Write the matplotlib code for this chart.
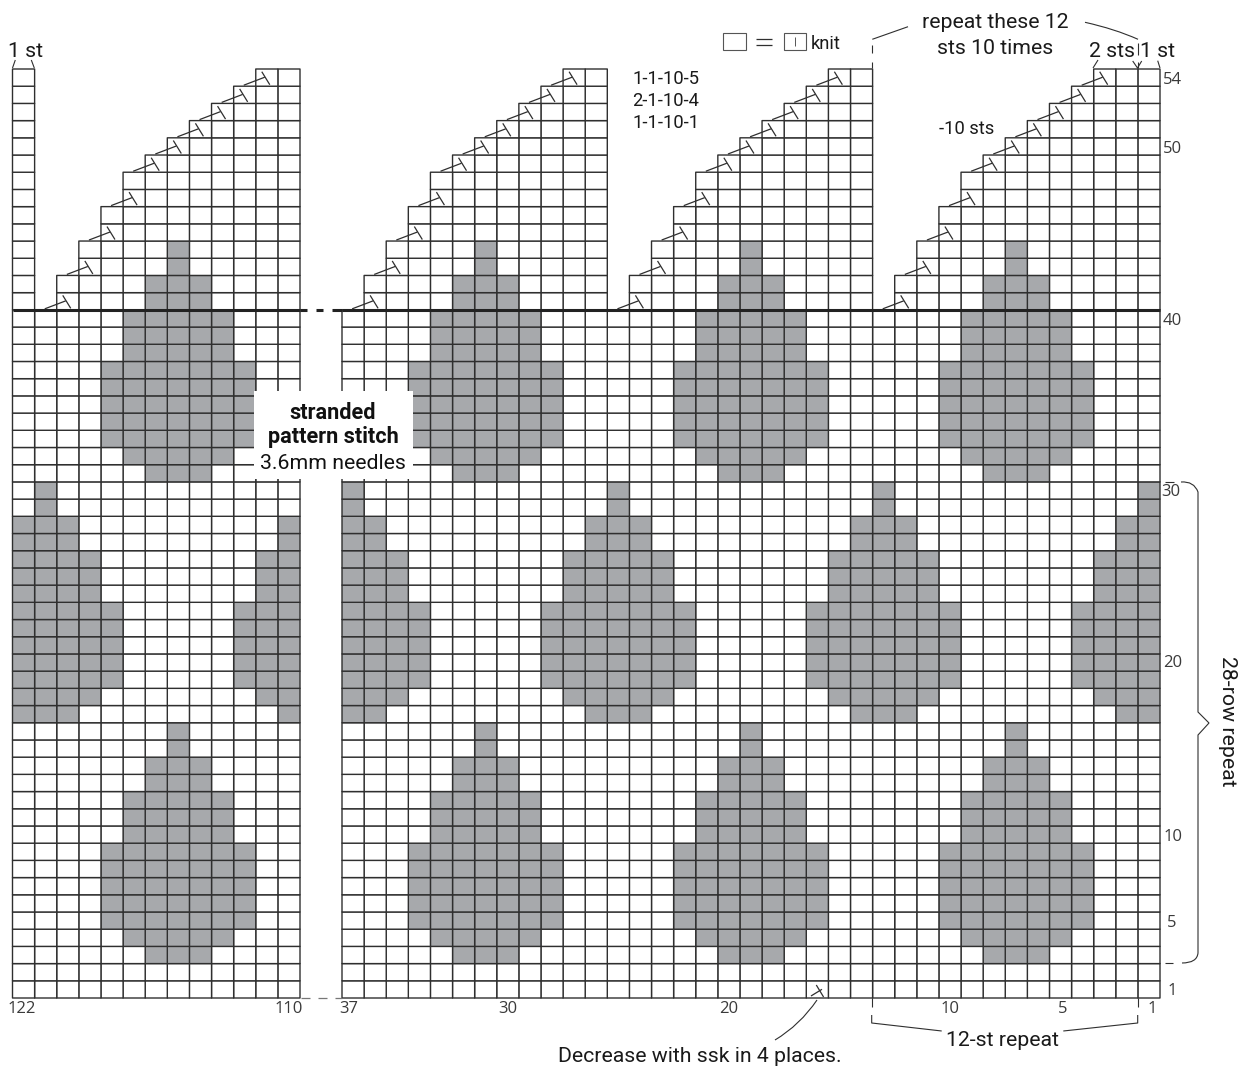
import numpy as np
import matplotlib
matplotlib.use("Agg")
import matplotlib.pyplot as plt
from matplotlib.colors import ListedColormap
from matplotlib.patches import Rectangle, PathPatch
from matplotlib.path import Path
from matplotlib.transforms import ScaledTranslation

W, H = 1247, 1068
NARROW = ["Roboto", "Liberation Sans", "DejaVu Sans"]
NUMFONT = ["Open Sans", "DejaVu Sans"]
LINE = "#2f2f2f"
GREY = "#a7a9ac"
NUMCOL = "#3a3a3a"

# ---- data ----
total_rows = 54
base_rows = 40
motif_half_widths = [1, 2, 3, 3, 3, 3, 3, 2, 2, 2, 1, 1, 0, 0]
motif_a_start_rows = [3, 31]
motif_a_centres = [7, 19, 31, 115]
motif_b_start_rows = [17]
motif_b_centres = [1, 13, 25, 37, 109, 121]
top_rows = [41, 42, 43, 44, 45, 46, 47, 48, 49, 50, 51, 52, 53, 54]
edge_widths = [12, 12, 11, 11, 10, 10, 9, 9, 8, 7, 6, 5, 4, 3]
inner_widths = [11, 11, 10, 10, 9, 9, 8, 8, 7, 6, 5, 4, 3, 2]
edge_start = 1
inner_starts = [14, 26, 110]
single_column = 122
decrease_rows = [41, 43, 45, 47, 49, 50, 51, 52, 53, 54]
ssk_stitch = 16
row_ticks = [1, 5, 10, 20, 30, 40, 50, 54]
right_stitch_ticks = [37, 30, 20, 10, 5, 1]
left_stitch_ticks = [122, 110]
right_range = (1, 37)
left_range = (110, 122)
top_left = 69
bottom = 998

fig = plt.figure(figsize=(W / 100, H / 100), dpi=100, facecolor="white")


def px_axes(x0, x1, y0, y1, **kw):
    return fig.add_axes([x0 / W, 1 - y1 / H, (x1 - x0) / W, (y1 - y0) / H], **kw)


def build(lo, hi):
    n = hi - lo + 1
    m = np.zeros((total_rows, n))
    mask = np.ones((total_rows, n), dtype=bool)
    mask[:base_rows, :] = False
    for rr, w1, w2 in zip(top_rows, edge_widths, inner_widths):
        runs = [(edge_start, w1)] + [(s, w2) for s in inner_starts] + [(single_column, 1)]
        for s, w in runs:
            for st in range(s, s + w):
                if lo <= st <= hi:
                    mask[rr - 1, st - lo] = False
    for starts, centres in ((motif_a_start_rows, motif_a_centres), (motif_b_start_rows, motif_b_centres)):
        for s0 in starts:
            for i, hw in enumerate(motif_half_widths):
                for c in centres:
                    for st in range(c - hw, c + hw + 1):
                        if lo <= st <= hi:
                            m[s0 - 1 + i, st - lo] = 1
    return np.ma.array(m, mask=mask)


cmap = ListedColormap(["white", GREY])
px_x = 22.1
px_y = 17.2


def sym(ax, xl, yb, pts):
    for a, b in pts:
        ax.plot([xl - a[0] / px_x, xl - b[0] / px_x], [yb + a[1] / px_y, yb + b[1] / px_y],
                color=LINE, lw=0.9, clip_on=False, zorder=6, solid_capstyle="butt")


DEC = [((-12, 1), (9, 9)), ((6, 14.5), (14, 1.5))]
SSK = [((4.7, 2), (15.7, 8.7)), ((10, 13), (17.3, 1))]


def panel(rng, x0, x1):
    lo, hi = rng
    ax = px_axes(x0, x1, top_left, bottom)
    xe = np.arange(lo - 1, hi + 1)
    ye = np.arange(0, total_rows + 1)
    ax.pcolor(xe, ye, build(lo, hi), cmap=cmap, vmin=0, vmax=1, edgecolors=LINE,
              linewidth=1.0, clip_on=False, zorder=2)
    ax.set_xlim(hi, lo - 1)
    ax.set_ylim(0, total_rows)
    ax.patch.set_visible(False)
    for s in ax.spines.values():
        s.set_visible(False)
    ax.plot([hi, lo - 1], [base_rows, base_rows], color="#222222", lw=2.2, clip_on=False, zorder=5,
            solid_capstyle="butt")
    return ax


ax_l = panel(left_range, 12.5, 300)
ax_r = panel(right_range, 342, 1160)

# decreases
for rr in decrease_rows:
    idx = top_rows.index(rr)
    sym(ax_r, edge_start - 1 + edge_widths[idx], rr - 1, DEC)
    for s in inner_starts[:2]:
        sym(ax_r, s - 1 + inner_widths[idx], rr - 1, DEC)
    sym(ax_l, inner_starts[2] - 1 + inner_widths[idx], rr - 1, DEC)
sym(ax_r, ssk_stitch, 0, SSK)

# ticks
ax_r.set_yticks([r - 0.5 for r in row_ticks], [str(r) for r in row_ticks])
ax_r.yaxis.tick_right()
ax_r.set_xticks([s - 0.5 for s in right_stitch_ticks], [str(s) for s in right_stitch_ticks])
ax_l.set_xticks([s - 0.5 for s in left_stitch_ticks], [str(s) for s in left_stitch_ticks])
ax_l.set_yticks([])
for ax in (ax_l, ax_r):
    ax.tick_params(length=0, pad=2.2, labelsize=12, labelcolor=NUMCOL)
    for lab in ax.get_xticklabels() + ax.get_yticklabels():
        lab.set_family(NUMFONT)

y_shift = {"1": (4, 0), "5": (4, 0), "30": (-2, 0), "20": (0, 2), "40": (0, -1), "50": (0, -1)}
for lab in ax_r.get_yticklabels():
    d = y_shift.get(lab.get_text())
    if d:
        lab.set_transform(lab.get_transform() + ScaledTranslation(d[0] / 100, d[1] / 100, fig.dpi_scale_trans))
x_shift = {"37": -4, "5": 2.5, "1": 3, "122": -2}
for lab in ax_r.get_xticklabels() + ax_l.get_xticklabels():
    d = x_shift.get(lab.get_text(), 0)
    if d:
        lab.set_transform(lab.get_transform() + ScaledTranslation(d / 100, 0, fig.dpi_scale_trans))

# overlay in pixel coordinates for callouts
ov = fig.add_axes([0, 0, 1, 1], zorder=20)
ov.set_xlim(0, W)
ov.set_ylim(H, 0)
ov.axis("off")
ov.patch.set_visible(False)


def seg(pts, lw=0.8, c=LINE):
    xs, ys = zip(*pts)
    ov.plot(xs, ys, color=c, lw=lw, solid_capstyle="butt", clip_on=False)


def curve(p0, p1, p2, lw=0.8):
    ov.add_patch(PathPatch(Path([p0, p1, p2], [Path.MOVETO, Path.CURVE3, Path.CURVE3]),
                           fc="none", ec=LINE, lw=lw))


def T(x, y, s, size=15.3, weight="normal", ha="center", **kw):
    ov.text(x, y, s, fontsize=size, family=NARROW, weight=weight, ha=ha, va="baseline",
            color="#1a1a1a", **kw)


# white label box
ov.add_patch(Rectangle((254, 391), 159, 88, fc="white", ec="none", zorder=3))
ov.text(333, 419, "stranded", fontsize=15.6, family=NARROW, weight="bold", ha="center", va="baseline",
        color="#111111", zorder=4)
ov.text(333, 443, "pattern stitch", fontsize=15.6, family=NARROW, weight="bold", ha="center", va="baseline",
        color="#111111", zorder=4)
ov.text(333, 469, "3.6mm needles", fontsize=15.3, family=NARROW, ha="center", va="baseline",
        color="#111111", zorder=4)

# gap dashes
seg([(300, 310), (307, 310)], lw=2.2, c="#222222")
seg([(316, 310), (323, 310)], lw=2.2, c="#222222")
seg([(332, 310), (342, 310)], lw=2.2, c="#222222")
for a, b in [(301, 310), (318, 327), (335, 342)]:
    seg([(a, 998), (b, 998)], lw=0.9, c="#777777")

# text
T(25, 57, "1 st")
T(995, 28.5, "repeat these 12")
T(995, 54, "sts 10 times")
T(1112, 57, "2 sts")
T(1157, 57, "1 st")
T(666, 84, "1-1-10-5", size=13.2)
T(666, 106, "2-1-10-4", size=13.2)
T(666, 128, "1-1-10-1", size=13.2)
T(967, 134, "-10 sts", size=13.2)
T(811, 49, "knit", size=13.2, ha="left")
T(1002, 1046, "12-st repeat")
T(700, 1062, "Decrease with ssk in 4 places.")
T(1222, 721, "28-row repeat", rotation=270, rotation_mode="anchor")

# legend
for x0 in (723.3, 783.7):
    ov.add_patch(Rectangle((x0, 32.7), 22.6, 17.6, fc="white", ec="#555555", lw=0.8))
seg([(755.7, 39), (772.3, 39)], lw=0.9)
seg([(755.7, 45), (772.3, 45)], lw=0.9)
seg([(795, 36.7), (795, 46)], lw=0.7, c="#555555")

# brackets, top
seg([(12.5, 68), (15.3, 60)])
seg([(34.3, 68), (31.3, 60)])
seg([(872.3, 39.3), (908, 26.7)])
seg([(872.3, 45), (872.3, 53)])
seg([(872.3, 61.7), (872.3, 68)])
curve((1085, 22.3), (1115, 29), (1138, 39.3))
seg([(1137.5, 43), (1137.5, 55)])
seg([(1137.5, 61.5), (1137.5, 68)])
seg([(1132.7, 61), (1137.5, 68), (1141.7, 61)])
seg([(1098, 60), (1093, 68)])
seg([(1157.7, 60.7), (1160, 68)])

# brackets, bottom
for x in (871.7, 1137.7):
    seg([(x, 998), (x, 1007)])
seg([(871.7, 1015), (871.7, 1023), (941.7, 1031)])
seg([(1137.7, 1015), (1137.7, 1023), (1063.3, 1031)])

# leader
curve((817, 1000), (800, 1025), (775, 1040))

# row brace
seg([(1165, 482), (1174, 482)])
ov.add_patch(PathPatch(Path([(1181, 482), (1194, 481), (1198, 492), (1198, 712), (1209, 723), (1198, 735),
                             (1198, 953), (1197, 963), (1182, 963)],
                            [Path.MOVETO, Path.CURVE3, Path.CURVE3, Path.LINETO, Path.LINETO, Path.LINETO,
                             Path.LINETO, Path.CURVE3, Path.CURVE3]),
                       fc="none", ec=LINE, lw=0.8))
seg([(1165, 963), (1173, 963)])

fig.savefig("out.png", dpi=100, facecolor="white")
